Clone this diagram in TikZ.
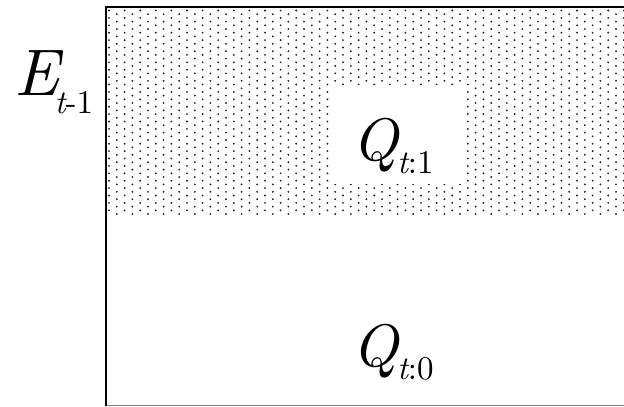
\documentclass[tikz,border=0pt]{standalone}
\usepackage{fontspec}
\newfontfamily\lmten{lmroman10-regular.otf}[ItalicFont=lmroman10-italic.otf]
\tikzset{
  dotfill/.style={fill=black!85},
  lbl/.style={anchor=base west, inner sep=0pt, outer sep=0pt, font=\lmten},
}
\begin{document}
\begin{tikzpicture}[x=1pt,y=-1pt]
\useasboundingbox (0,0) rectangle (624,407);
% dotted region
\foreach \i [evaluate=\i as \dy using {mod(\i,2)*3.7}] in {0,...,66}{
  \foreach \j in {0,...,27}{
    \fill[dotfill] (109+\i*7.8, 10.5+\j*7.4+\dy) circle (1.05pt);
  }
}
% white box behind Q_{t:1}
\fill[white] (330,85) rectangle (463,184);
% frame
\draw[gray, line width=1.5pt] (106,405.5) -- (624,405.5);
\draw[black, line width=2pt] (106,406) -- (106,7) -- (624,7);
% labels
\node[lbl] (E) at (14,95) {{\fontsize{66}{66}\selectfont\itshape E}\kern-4pt\raisebox{-18pt}{\fontsize{33}{33}\selectfont{\itshape t}-1}};
\node[lbl] (Q1) at (352,160) {{\fontsize{60}{60}\selectfont\itshape Q}\kern-1pt\raisebox{-13pt}{\fontsize{33}{33}\selectfont{\itshape t}:1}};
\node[lbl] (Q0) at (352,366) {{\fontsize{60}{60}\selectfont\itshape Q}\kern-1pt\raisebox{-13pt}{\fontsize{33}{33}\selectfont{\itshape t}:0}};
\end{tikzpicture}
\end{document}
